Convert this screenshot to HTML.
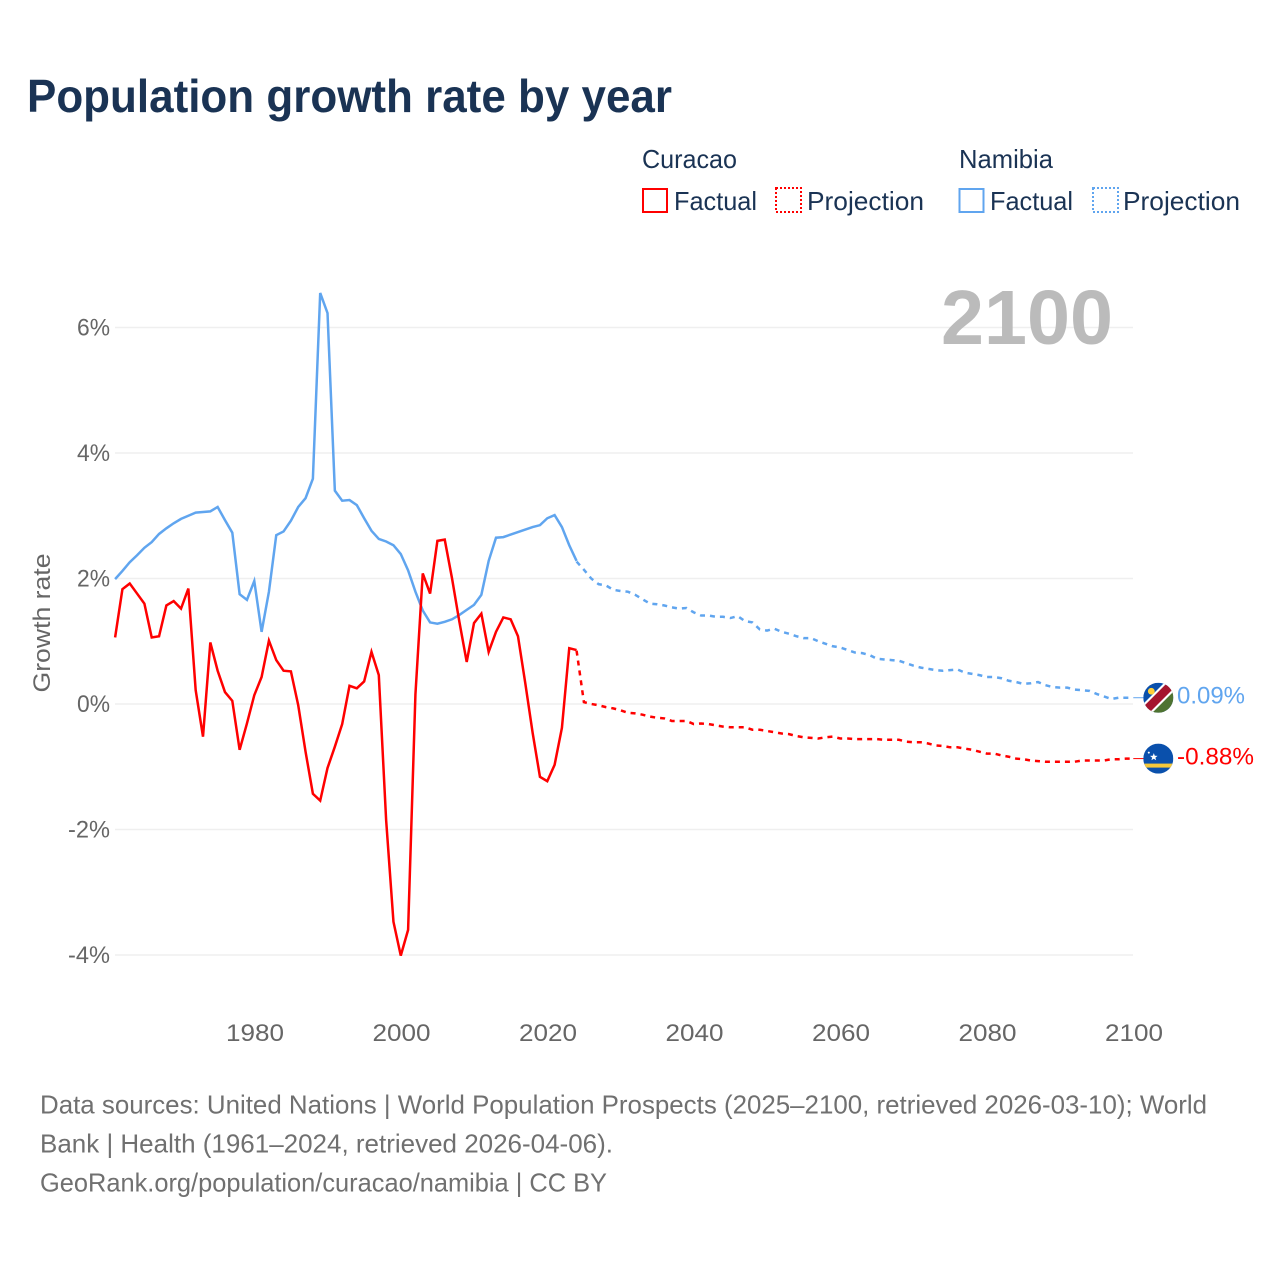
<!DOCTYPE html>
<html lang="en">
<head>
<meta charset="utf-8">
<title>Population growth rate by year</title>
<style>
  html,body{margin:0;padding:0;background:#fff;width:1280px;height:1280px;overflow:hidden}
  svg{display:block;font-family:"Liberation Sans",sans-serif}
</style>
</head>
<body>
<svg id="chart" xmlns="http://www.w3.org/2000/svg" width="1280" height="1280" viewBox="0 0 1280 1280">
  <defs>
    <clipPath id="flag-clip"><circle cx="0" cy="0" r="15"></circle></clipPath>
  </defs>
  <text x="27" y="112" font-size="46" font-weight="700" fill="#1a3354" textLength="645" lengthAdjust="spacingAndGlyphs">Population growth rate by year</text>

  <g font-size="26" fill="#1a3354">
    <text x="642" y="168" textLength="95" lengthAdjust="spacingAndGlyphs">Curacao</text>
    <text x="959" y="168" textLength="94" lengthAdjust="spacingAndGlyphs">Namibia</text>
    <rect x="643" y="189" width="24" height="23" fill="none" stroke="#ff0000" stroke-width="2"></rect>
    <text x="674" y="210" textLength="83" lengthAdjust="spacingAndGlyphs">Factual</text>
    <rect x="776" y="188" width="25" height="24" fill="none" stroke="#ff0000" stroke-width="2" stroke-dasharray="2 2"></rect>
    <text x="807" y="210" textLength="117" lengthAdjust="spacingAndGlyphs">Projection</text>
    <rect x="959.5" y="189" width="24" height="23" fill="none" stroke="#60a5ef" stroke-width="2"></rect>
    <text x="990" y="210" textLength="83" lengthAdjust="spacingAndGlyphs">Factual</text>
    <rect x="1093" y="188" width="25" height="24" fill="none" stroke="#60a5ef" stroke-width="2" stroke-dasharray="2 2"></rect>
    <text x="1123" y="210" textLength="117" lengthAdjust="spacingAndGlyphs">Projection</text>
  </g>

  <g id="grid"></g>
  <text x="941" y="344" font-size="77" font-weight="700" fill="#bbbbbb" textLength="172" lengthAdjust="spacingAndGlyphs">2100</text>
  <g id="y-ticks" font-size="24.5" fill="#666666"></g>
  <g id="x-ticks" font-size="24.5" fill="#666666"></g>
  <text transform="translate(50,623) rotate(-90)" text-anchor="middle" font-size="24.5" fill="#666666" textLength="139" lengthAdjust="spacingAndGlyphs">Growth rate</text>

  <g id="series"></g>

  <g id="flag-namibia">
    <g clip-path="url(#flag-clip)">
      <rect x="-15" y="-15" width="30" height="30" fill="#0a50ac"></rect>
      <polygon points="-15,15 15,-15 15,15" fill="#4f7331"></polygon>
      <polygon points="-15,6 6,-15 15,-15 15,-6 -6,15 -15,15" fill="#ffffff"></polygon>
      <polygon points="-15,9 9,-15 15,-15 15,-9 -9,15 -15,15" fill="#a5142d"></polygon>
      <circle cx="-7" cy="-6.5" r="3.4" fill="#ffce3a"></circle>
    </g>
  </g>
  <g id="flag-curacao">
    <g clip-path="url(#flag-clip)">
      <rect x="-15" y="-15" width="30" height="30" fill="#0a50ac"></rect>
      <rect x="-15" y="5" width="30" height="4" fill="#f5c83a"></rect>
      <polygon points="-4.5,-5.5 -3.5,-2.8 -0.7,-2.7 -2.9,-1 -2.1,1.7 -4.5,0.2 -6.9,1.7 -6.1,-1 -8.3,-2.7 -5.5,-2.8" fill="#ffffff"></polygon>
      <circle cx="-9.5" cy="-6" r="1" fill="#ffffff"></circle>
    </g>
  </g>
  <text id="label-namibia" x="1177" font-size="24.5" fill="#60a5ef" textLength="68" lengthAdjust="spacingAndGlyphs"></text>
  <text id="label-curacao" x="1177" font-size="24.5" fill="#ff0000" textLength="77" lengthAdjust="spacingAndGlyphs"></text>

  <g font-size="26" fill="#707070">
    <text x="40" y="1113.5" textLength="1167" lengthAdjust="spacingAndGlyphs">Data sources: United Nations | World Population Prospects (2025–2100, retrieved 2026-03-10); World</text>
    <text x="40" y="1152.5" textLength="573" lengthAdjust="spacingAndGlyphs">Bank | Health (1961–2024, retrieved 2026-04-06).</text>
    <text x="40" y="1191.5" textLength="567" lengthAdjust="spacingAndGlyphs">GeoRank.org/population/curacao/namibia | CC BY</text>
  </g>
</svg>
<script>
const factualStartYear = 1961;
const projectionStartYear = 2024;
const xTickYears = [1980, 2000, 2020, 2040, 2060, 2080, 2100];
const yTickValues = [6, 4, 2, 0, -2, -4];
const yTickLabels = ['6%', '4%', '2%', '0%', '-2%', '-4%'];
const latestLabels = { namibia: '0.09%', curacao: '-0.88%' };

const namibiaFactual = [1.99,2.12,2.26,2.37,2.49,2.58,2.71,2.80,2.88,2.95,3.00,3.05,3.06,3.07,3.14,2.93,2.73,1.75,1.66,1.96,1.15,1.79,2.69,2.75,2.92,3.14,3.28,3.59,6.55,6.23,3.40,3.24,3.25,3.17,2.96,2.76,2.63,2.59,2.53,2.39,2.13,1.79,1.49,1.30,1.28,1.31,1.35,1.42,1.50,1.58,1.74,2.28,2.65,2.66,2.70,2.74,2.78,2.82,2.85,2.96,3.01,2.82,2.53,2.28];
const namibiaProjection = [2.27,2.14,2.00,1.91,1.89,1.82,1.80,1.79,1.74,1.67,1.60,1.59,1.57,1.54,1.52,1.53,1.46,1.41,1.41,1.39,1.39,1.37,1.40,1.32,1.30,1.19,1.17,1.20,1.15,1.12,1.08,1.05,1.05,1.00,0.96,0.92,0.90,0.86,0.82,0.81,0.78,0.72,0.71,0.70,0.69,0.65,0.61,0.58,0.56,0.54,0.53,0.54,0.55,0.50,0.48,0.46,0.43,0.43,0.41,0.37,0.35,0.32,0.33,0.35,0.30,0.27,0.26,0.26,0.23,0.22,0.21,0.16,0.12,0.08,0.10,0.10,0.10];
const curacaoFactual = [1.06,1.83,1.92,1.76,1.60,1.06,1.08,1.57,1.64,1.52,1.84,0.22,-0.52,0.98,0.53,0.19,0.05,-0.73,-0.31,0.14,0.43,1.01,0.70,0.53,0.52,-0.02,-0.76,-1.43,-1.54,-1.02,-0.68,-0.32,0.29,0.25,0.36,0.83,0.46,-1.85,-3.47,-4.01,-3.60,0.15,2.08,1.76,2.60,2.62,2.00,1.31,0.67,1.29,1.44,0.83,1.15,1.38,1.35,1.08,0.33,-0.46,-1.16,-1.23,-0.97,-0.38,0.89,0.86];
const curacaoProjection = [0.85,0.03,0.00,-0.02,-0.05,-0.07,-0.10,-0.14,-0.15,-0.17,-0.20,-0.22,-0.23,-0.27,-0.27,-0.27,-0.32,-0.31,-0.32,-0.34,-0.36,-0.37,-0.37,-0.37,-0.41,-0.41,-0.43,-0.45,-0.47,-0.48,-0.51,-0.53,-0.54,-0.55,-0.53,-0.52,-0.55,-0.55,-0.56,-0.56,-0.56,-0.56,-0.57,-0.57,-0.57,-0.60,-0.61,-0.61,-0.63,-0.66,-0.67,-0.69,-0.69,-0.71,-0.73,-0.76,-0.79,-0.79,-0.82,-0.84,-0.87,-0.88,-0.90,-0.91,-0.92,-0.92,-0.92,-0.92,-0.92,-0.90,-0.90,-0.90,-0.90,-0.88,-0.88,-0.87,-0.87];

const SVG_NS = 'http://www.w3.org/2000/svg';
const BLUE = '#60a5ef';
const RED = '#ff0000';

function xScale(year) { return 115.1 + (year - 1961) * 7.325; }
function yScale(value) { return 704 - value * 62.75; }

const gridGroup = document.getElementById('grid');
const yTickGroup = document.getElementById('y-ticks');
yTickValues.forEach(function (v, i) {
  const line = document.createElementNS(SVG_NS, 'line');
  
  
  line.setAttribute('x1', 115);
  line.setAttribute('x2', 1133);
  line.setAttribute('y1', yScale(v));
  line.setAttribute('y2', yScale(v));
  line.setAttribute('stroke', '#efefef');
  line.setAttribute('stroke-width', 1.6);
  gridGroup.appendChild(line);

  const label = document.createElementNS(SVG_NS, 'text');
  
  
  label.setAttribute('x', 110);
  label.setAttribute('y', yScale(v) + 8);
  label.setAttribute('text-anchor', 'end');
  label.setAttribute('textLength', yTickLabels[i].length === 3 ? 42 : 33);
  label.setAttribute('lengthAdjust', 'spacingAndGlyphs');
  label.textContent = yTickLabels[i];
  yTickGroup.appendChild(label);
});

const xTickGroup = document.getElementById('x-ticks');
xTickYears.forEach(function (year) {
  const label = document.createElementNS(SVG_NS, 'text');
  
  
  label.setAttribute('x', xScale(year) + 0.7);
  label.setAttribute('y', 1041);
  label.setAttribute('text-anchor', 'middle');
  label.setAttribute('textLength', 58);
  label.setAttribute('lengthAdjust', 'spacingAndGlyphs');
  label.textContent = String(year);
  xTickGroup.appendChild(label);
});

function pathFor(values, startYear) {
  return values.map(function (v, i) {
    return (i === 0 ? 'M' : 'L') + xScale(startYear + i).toFixed(2) + ' ' + yScale(v).toFixed(2);
  }).join(' ');
}

const seriesGroup = document.getElementById('series');

function drawConnector(values, color) {
  const last = values[values.length - 1];
  const line = document.createElementNS(SVG_NS, 'line');
  
  
  line.setAttribute('x1', xScale(2100));
  line.setAttribute('x2', 1146);
  line.setAttribute('y1', yScale(last));
  line.setAttribute('y2', yScale(last));
  line.setAttribute('stroke', color);
  line.setAttribute('stroke-width', 1);
  seriesGroup.appendChild(line);
}

function drawFactual(values, color, name) {
  const p = document.createElementNS(SVG_NS, 'path');
  
  
  p.setAttribute('d', pathFor(values, factualStartYear));
  p.setAttribute('fill', 'none');
  p.setAttribute('stroke', color);
  p.setAttribute('stroke-width', 2.5);
  p.setAttribute('stroke-linejoin', 'miter');
  seriesGroup.appendChild(p);
}

function drawProjection(values, color, name) {
  const p = document.createElementNS(SVG_NS, 'path');
  
  
  p.setAttribute('d', pathFor(values, projectionStartYear));
  p.setAttribute('fill', 'none');
  p.setAttribute('stroke', color);
  p.setAttribute('stroke-width', 2.5);
  p.setAttribute('stroke-dasharray', '5 5');
  seriesGroup.appendChild(p);
}

drawConnector(namibiaProjection, BLUE);
drawConnector(curacaoProjection, RED);
drawFactual(namibiaFactual, BLUE, 'namibia-factual-line');
drawProjection(namibiaProjection, BLUE, 'namibia-projection-line');
drawFactual(curacaoFactual, RED, 'curacao-factual-line');
drawProjection(curacaoProjection, RED, 'curacao-projection-line');

const namibiaEndY = yScale(namibiaProjection[namibiaProjection.length - 1]);
const curacaoEndY = yScale(curacaoProjection[curacaoProjection.length - 1]);
document.getElementById('flag-namibia').setAttribute('transform', 'translate(1158.3,' + namibiaEndY + ')');
document.getElementById('flag-curacao').setAttribute('transform', 'translate(1158.3,' + curacaoEndY + ')');
const labelNamibia = document.getElementById('label-namibia');
labelNamibia.setAttribute('y', namibiaEndY + 6);
labelNamibia.textContent = latestLabels.namibia;
const labelCuracao = document.getElementById('label-curacao');
labelCuracao.setAttribute('y', curacaoEndY + 6);
labelCuracao.textContent = latestLabels.curacao;
</script>
</body>
</html>
